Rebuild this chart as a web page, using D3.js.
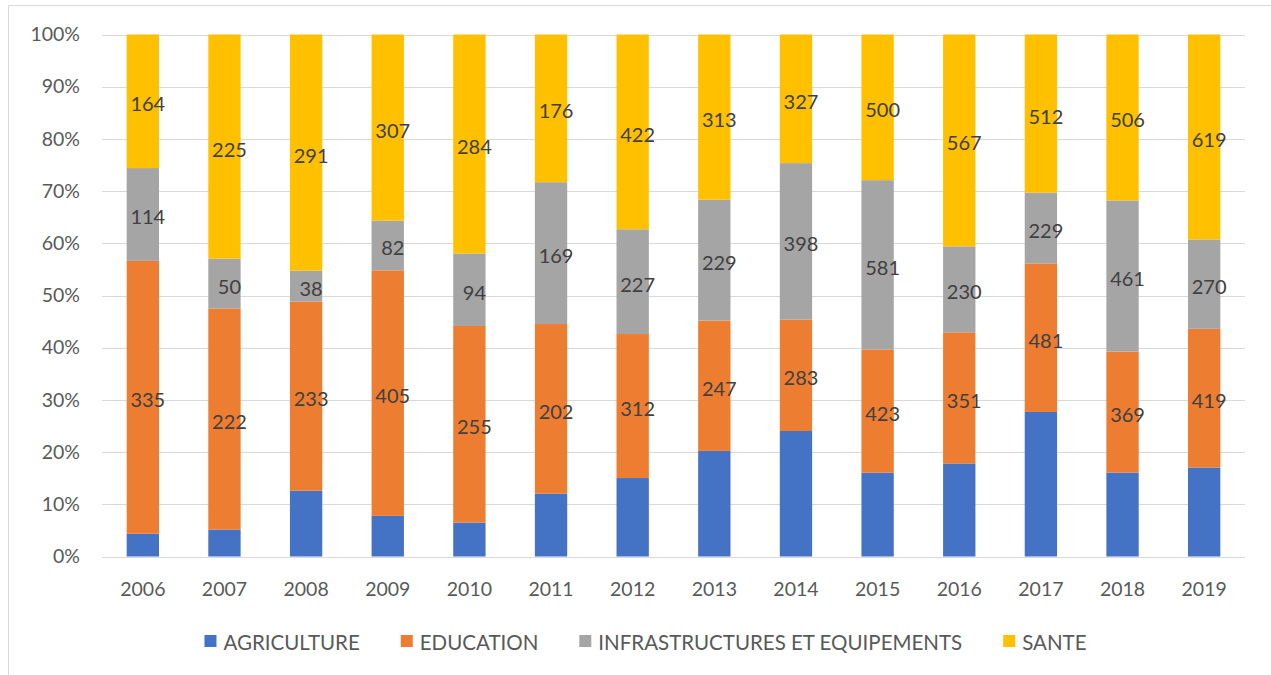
<!DOCTYPE html>
<html><head><meta charset="utf-8">
<script src="https://cdn.jsdelivr.net/npm/d3@7"></script>
<style>body{margin:0;background:#fff}svg{display:block}text{font-family:Lato,"Open Sans",sans-serif}</style>
</head><body><svg id="c" width="1271" height="675"></svg>
<script>
const years = ["2006","2007","2008","2009","2010","2011","2012","2013","2014","2015","2016","2017","2018","2019"];
const agriculture = [28,27,81,67,44,75,170,200,319,288,249,468,256,269];
const education = [335,222,233,405,255,202,312,247,283,423,351,481,369,419];
const infrastructures = [114,50,38,82,94,169,227,229,398,581,230,229,461,270];
const sante = [164,225,291,307,284,176,422,313,327,500,567,512,506,619];
const seriesNames = ["AGRICULTURE","EDUCATION","INFRASTRUCTURES ET EQUIPEMENTS","SANTE"];
const colors = ["#4472C4","#ED7D31","#A5A5A5","#FFC000"];
const showLabel = [false,true,true,true];
const yTicks = [0,0.1,0.2,0.3,0.4,0.5,0.6,0.7,0.8,0.9,1];

const svg = d3.select("#c");
// partial frame (top and left edges visible in reference)
svg.append("line").attr("x1",8.5).attr("x2",1271).attr("y1",5.5).attr("y2",5.5).attr("stroke","#d9d9d9");
svg.append("line").attr("x1",8.5).attr("x2",8.5).attr("y1",5.5).attr("y2",675).attr("stroke","#d9d9d9");

const m = {left:102, right:1245, top:34.5, bottom:556.5};
const x = d3.scaleBand().domain(years).range([m.left,m.right]).paddingInner(0.604).paddingOuter(0.302);
const y = d3.scaleLinear().domain([0,1]).range([m.bottom,m.top]);

const keys = ["a","e","i","s"];
const table = years.map((yr,i)=>{
  const t = agriculture[i]+education[i]+infrastructures[i]+sante[i];
  return {year:yr, a:agriculture[i]/t, e:education[i]/t, i:infrastructures[i]/t, s:sante[i]/t,
    raw:{a:agriculture[i],e:education[i],i:infrastructures[i],s:sante[i]}};
});
const stack = d3.stack().keys(keys)(table);

// gridlines
svg.append("g").selectAll("line").data(yTicks).join("line")
  .attr("x1",m.left).attr("x2",m.right)
  .attr("y1",d=>Math.round(y(d))+0.5).attr("y2",d=>Math.round(y(d))+0.5)
  .attr("stroke","#d9d9d9").attr("stroke-width",1);

// y axis labels
const yAxis = d3.axisLeft(y).tickValues(yTicks).tickFormat(d3.format(".0%")).tickSize(0).tickPadding(22);
const gy = svg.append("g").attr("transform",`translate(${m.left},0)`).call(yAxis);
gy.select(".domain").remove();
gy.selectAll("text").attr("fill","#595959").style("font-size","19.5px").style("font-family","Lato,sans-serif");

// x axis labels
const xAxis = d3.axisBottom(x).tickSize(0).tickPadding(26);
const gx = svg.append("g").attr("transform",`translate(0,${m.bottom})`).call(xAxis);
gx.select(".domain").remove();
gx.selectAll("text").attr("fill","#595959").style("font-size","19.5px").style("font-family","Lato,sans-serif");

// bars
const layers = svg.append("g").selectAll("g").data(stack).join("g").attr("fill",(d,i)=>colors[i]);
layers.selectAll("rect").data(d=>d).join("rect")
  .attr("x",d=>x(d.data.year)).attr("width",x.bandwidth())
  .attr("y",d=>y(d[1])).attr("height",d=>y(d[0])-y(d[1]));

// labels
stack.forEach((layer,li)=>{
  if(!showLabel[li]) return;
  svg.append("g").selectAll("text").data(layer).join("text")
    .attr("x",d=>x(d.data.year)+x.bandwidth()/2+5)
    .attr("y",d=>(y(d[0])+y(d[1]))/2+2)
    .attr("text-anchor","middle").attr("dominant-baseline","central")
    .attr("fill","#404040").style("font-size","20px")
    .text(d=>d.data.raw[keys[li]]);
});

// legend
const lg = svg.append("g");
let cx = 0;
seriesNames.forEach((n,i)=>{
  const g = lg.append("g");
  g.append("rect").attr("x",0).attr("y",-6).attr("width",12).attr("height",12).attr("fill",colors[i]);
  const t = g.append("text").attr("x",19).attr("y",1).attr("dominant-baseline","central")
    .attr("fill","#595959").style("font-size","20.5px").text(n);
  const w = 19 + t.node().getComputedTextLength();
  g.attr("transform",`translate(${cx},0)`);
  cx += w + 41;
});
const total = cx - 41;
lg.attr("transform",`translate(${645.5-total/2},641)`);
</script></body></html>
